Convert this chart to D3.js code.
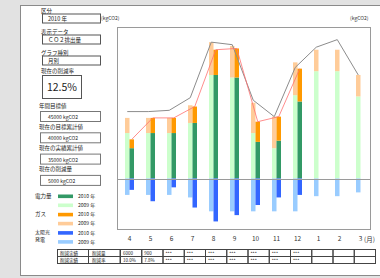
<!DOCTYPE html>
<html>
<head>
<meta charset="utf-8">
<script src="https://cdn.jsdelivr.net/npm/d3@7/dist/d3.min.js"></script>
<style>
  body { margin: 0; background: #e2e2e2; }
  svg { display: block; font-family: "Noto Sans CJK JP", "Noto Sans", sans-serif; }
</style>
</head>
<body>
<div id="chart"></div>
<script>

var months = ["4", "5", "6", "7", "8", "9", "10", "11", "12", "1", "2", "3"];

// 2009 (light) and 2010 (dark), kgCO2 per month
var elec2009 = [1800, 1800, 1800, 2200, 4100, 4000, 1800, 1200, 3300, 4250, 4250, 3250];
var gas2009 = [600, 600, 600, 700, 1300, 1250, 1200, 1250, 1300, 850, 850, 850];
var solar2009 = [650, 650, 650, 750, 1300, 1300, 1300, 1300, 1300, 700, 700, 550];

var elec2010 = [1200, 1800, 1800, 2200, 4100, 4000, 1450, 1500, 3050];
var gas2010 = [350, 600, 600, 650, 1000, 1150, 800, 950, 1300];
var solar2010 = [450, 900, 350, 1150, 1700, 1450, 1050, 750, 650];

var target = [2650, 2650, 2700, 3200, 5400, 5300, 3100, 2450, 4400, 5200, 5500, 4100];

var reductionAmount = ["6000", "900", "***", "***", "***", "***", "***", "***", "***", "", "", ""];
var reductionRate = ["10.0%", "7.8%", "***", "***", "***", "***", "***", "***", "***", "", "", ""];

var infoLabels = ["区分", "表示データ", "グラフ種別"];
var infoValues = ["2010 年", "ＣＯ２排出量", "月別"];
var rateLabel = "現在の削減率";
var rateValue = "12.5%";
var sumLabels = ["年間目標値", "現在の目標累計値", "現在の実績累計値", "現在の削減量"];
var sumValues = ["45000 kgCO2", "40000 kgCO2", "35000 kgCO2", "5000 kgCO2"];

var legendGroups = ["電力量", "ガス", "太陽光"];
var legendYears = ["2010 年", "2009 年"];

var colors = {
  elec: ["#ccffcc", "#339966"],
  gas: ["#ffcc99", "#ff9900"],
  solar: ["#99ccff", "#3366ff"]
};

var W = 380, H = 278;
var plot = { left: 117, right: 370, top: 27, bottom: 229 };

var svg = d3.select("#chart").append("svg")
  .attr("width", W).attr("height", H);

// outer panel
svg.append("rect")
  .attr("x", 20.5).attr("y", 5.5)
  .attr("width", 370).attr("height", 270)
  .attr("fill", "#fff").attr("stroke", "#8a8a8a");

// ---------- left info panel ----------
var info = svg.append("g").attr("font-size", 5.5).attr("fill", "#222");

infoLabels.forEach(function (t, i) {
  var top = 13.5 + i * 21;
  info.append("text").attr("x", 41).attr("y", top - 1).text(t);
  info.append("rect").attr("x", 42.5).attr("y", top + 0.5)
    .attr("width", 58).attr("height", 9)
    .attr("fill", "#fff").attr("stroke", "#555");
  info.append("text").attr("x", 48).attr("y", top + 7.5).text(infoValues[i]);
});

info.append("text").attr("x", 41).attr("y", 73).text(rateLabel);
info.append("rect").attr("x", 42.5).attr("y", 75.5)
  .attr("width", 39).attr("height", 23)
  .attr("fill", "#fff").attr("stroke", "#555");
info.append("text").attr("x", 62).attr("y", 91)
  .attr("text-anchor", "middle").attr("font-size", 10.5).text(rateValue);

sumLabels.forEach(function (t, i) {
  var top = 111.5 + i * 21.3;
  info.append("text").attr("x", 39).attr("y", top - 4).text(t);
  info.append("rect").attr("x", 40.5).attr("y", top)
    .attr("width", 60).attr("height", 10)
    .attr("fill", "#fff").attr("stroke", "#777");
  info.append("text").attr("x", 48).attr("y", top + 7.5)
    .attr("font-size", 5).text(sumValues[i]);
});

// legend
var keys = ["elec", "gas", "solar"];
keys.forEach(function (k, i) {
  var top = 194.5 + i * 18.3;
  if (k == "solar") {
    info.append("text").attr("x", 35).attr("y", top + 2.5).attr("font-size", 5).text("太陽光");
    info.append("text").attr("x", 35).attr("y", top + 9.5).attr("font-size", 5).text("発電");
  } else {
    info.append("text").attr("x", 35).attr("y", top + 3).text(legendGroups[i]);
  }
  legendYears.forEach(function (yr, j) {
    var yy = top + j * 9;
    info.append("rect").attr("x", 58).attr("y", yy)
      .attr("width", 15).attr("height", 3.6)
      .attr("fill", colors[k][1 - j]);
    info.append("text").attr("x", 78).attr("y", yy + 3.5).attr("font-size", 5).text(yr);
  });
});

// ---------- chart ----------
var x = d3.scaleBand().domain(months).range([plot.left + 1, plot.right]);
var xs = d3.scaleBand().domain(["2009", "2010"]).range([7, 16]);
var y = d3.scaleLinear().domain([-2000, 6000]).range([plot.bottom, plot.top]);

svg.append("rect")
  .attr("x", plot.left + 0.5).attr("y", plot.top + 0.5)
  .attr("width", plot.right - plot.left).attr("height", plot.bottom - plot.top)
  .attr("fill", "none").attr("stroke", "#9a9a9a");

function bars(vals, year, colorIdx, key, base) {
  svg.append("g").selectAll("rect")
    .data(vals)
    .join("rect")
    .attr("x", function (d, i) { return x(months[i]) + xs(year); })
    .attr("width", xs.bandwidth())
    .attr("y", function (d, i) {
      var b = base ? base[i] : 0;
      return d >= 0 ? y(b + d) : y(0);
    })
    .attr("height", function (d, i) {
      var b = base ? base[i] : 0;
      return d >= 0 ? y(b) - y(b + d) : y(d) - y(0);
    })
    .attr("fill", colors[key][colorIdx]);
}

bars(elec2009, "2009", 0, "elec");
bars(gas2009, "2009", 0, "gas", elec2009);
bars(solar2009.map(function (d) { return -d; }), "2009", 0, "solar");
bars(elec2010, "2010", 1, "elec");
bars(gas2010, "2010", 1, "gas", elec2010);
bars(solar2010.map(function (d) { return -d; }), "2010", 1, "solar");

// zero line
svg.append("line")
  .attr("x1", plot.left).attr("x2", plot.right)
  .attr("y1", Math.round(y(0)) + 0.5).attr("y2", Math.round(y(0)) + 0.5)
  .attr("stroke", "#9a9a9a");

// target line (gray) and 2010 total line (red)
var grayLine = d3.line()
  .x(function (d, i) { return x(months[i]) + xs("2009") + xs.bandwidth() / 2; })
  .y(function (d) { return y(d); });
svg.append("path").datum(target)
  .attr("d", grayLine).attr("fill", "none")
  .attr("stroke", "#8c8c8c").attr("stroke-width", 1);

var total2010 = elec2010.map(function (d, i) { return d + gas2010[i]; });
var redLine = d3.line()
  .x(function (d, i) { return x(months[i]) + xs("2010") + xs.bandwidth() / 2; })
  .y(function (d) { return y(d); });
svg.append("path").datum(total2010)
  .attr("d", redLine).attr("fill", "none")
  .attr("stroke", "#ff7070").attr("stroke-width", 0.8);

// month axis
var xAxis = d3.axisBottom(x).tickSize(0).tickPadding(7);
var ax = svg.append("g")
  .attr("transform", "translate(1," + plot.bottom + ")")
  .call(xAxis);
ax.select(".domain").remove();
ax.selectAll("text").attr("font-size", 6.5).attr("fill", "#333")
  .attr("font-family", "Noto Sans CJK JP, sans-serif");

svg.append("text").attr("x", 364).attr("y", 242)
  .attr("font-size", 6.5).attr("fill", "#333").text("(月)");

svg.append("text").attr("x", 101).attr("y", 20)
  .attr("font-size", 5).attr("fill", "#333").text("(kgCO2)");
svg.append("text").attr("x", 350).attr("y", 20)
  .attr("font-size", 5).attr("fill", "#333").text("(kgCO2)");

// ---------- results table ----------
var tx = d3.scaleBand().domain(months).range([120, 375]);
var tbl = svg.append("g").attr("font-size", 4.5).attr("fill", "#222");
var rows = [reductionAmount, reductionRate];
var rowNames = ["削減量", "削減率"];
rows.forEach(function (vals, r) {
  var top = 249.5 + r * 7;
  tbl.append("rect").attr("x", 57.5).attr("y", top).attr("width", 31).attr("height", 7)
    .attr("fill", "none").attr("stroke", "#444");
  tbl.append("text").attr("x", 60).attr("y", top + 5).text("削減実績");
  tbl.append("rect").attr("x", 88.5).attr("y", top).attr("width", 31.5).attr("height", 7)
    .attr("fill", "none").attr("stroke", "#444");
  tbl.append("text").attr("x", 92).attr("y", top + 5).text(rowNames[r]);
  tbl.selectAll(null).data(vals).join("rect")
    .attr("x", function (d, i) { return tx(months[i]) + 0.5; })
    .attr("y", top).attr("width", tx.bandwidth()).attr("height", 7)
    .attr("fill", "none").attr("stroke", "#444");
  tbl.selectAll(null).data(vals).join("text")
    .attr("x", function (d, i) { return tx(months[i]) + 3; })
    .attr("y", top + 5)
    .text(function (d) { return d; });
});

</script>
</body>
</html>
